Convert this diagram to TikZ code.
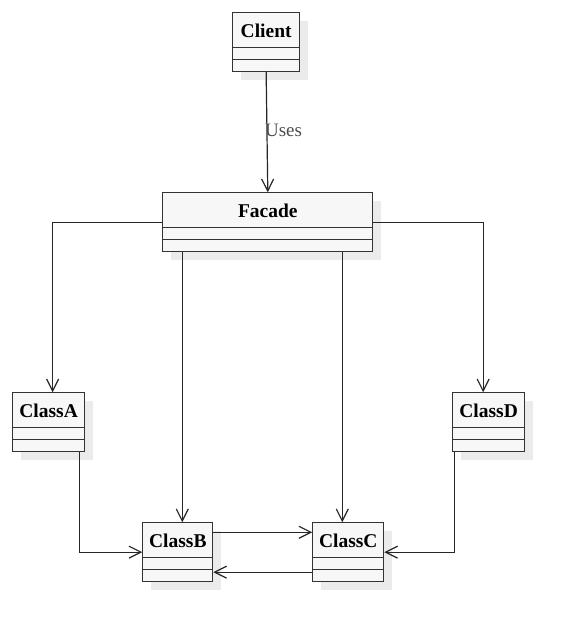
\documentclass[tikz,border=0pt]{standalone}
\usepackage{fontspec}
\setmainfont{Liberation Serif}
\usetikzlibrary{arrows.meta,shadows}

\tikzset{
  umlclass/.style={draw=black!80, fill=black!3, line width=1pt, anchor=north west,
    inner sep=0pt, text height=25pt, text depth=33.7pt,
    font=\fontsize{19.5}{20}\selectfont\bfseries,
    drop shadow={shadow xshift=8.5pt, shadow yshift=-8.5pt, fill=black!8, opacity=1}},
  part/.style={draw=black!80, line width=1pt},
  assoc/.style={draw=black!85, line width=1.2pt, -{Straight Barb[length=12pt,width=12pt]}},
  uses/.style={font=\fontsize{19}{20}\selectfont, text=black!70, inner sep=0pt}
}

\begin{document}
\begin{tikzpicture}[x=1pt, y=-1pt]
        \useasboundingbox (0,0) rectangle (573,631);

        % classes
        \node[umlclass, minimum width=66.7pt] (client) at (232.3,12.3) {Client};
        \node[umlclass, minimum width=210pt] (facade) at (162.3,192.3) {Facade};
        \node[umlclass, minimum width=71.7pt] (classA) at (12.3,392.3) {ClassA};
        \node[umlclass, minimum width=70pt] (classB) at (142.3,522.3) {ClassB};
        \node[umlclass, minimum width=71pt] (classC) at (312.3,522.3) {ClassC};
        \node[umlclass, minimum width=71.7pt] (classD) at (452.3,392.3) {ClassD};

        % compartments
        \draw[part] ([yshift=-35.4pt]client.north west) -- ([yshift=-35.4pt]client.north east);
        \draw[part] ([yshift=-47.5pt]client.north west) -- ([yshift=-47.5pt]client.north east);
        \draw[part] ([yshift=-35.4pt]facade.north west) -- ([yshift=-35.4pt]facade.north east);
        \draw[part] ([yshift=-47.5pt]facade.north west) -- ([yshift=-47.5pt]facade.north east);
        \draw[part] ([yshift=-35.4pt]classA.north west) -- ([yshift=-35.4pt]classA.north east);
        \draw[part] ([yshift=-47.5pt]classA.north west) -- ([yshift=-47.5pt]classA.north east);
        \draw[part] ([yshift=-35.4pt]classB.north west) -- ([yshift=-35.4pt]classB.north east);
        \draw[part] ([yshift=-47.5pt]classB.north west) -- ([yshift=-47.5pt]classB.north east);
        \draw[part] ([yshift=-35.4pt]classC.north west) -- ([yshift=-35.4pt]classC.north east);
        \draw[part] ([yshift=-47.5pt]classC.north west) -- ([yshift=-47.5pt]classC.north east);
        \draw[part] ([yshift=-35.4pt]classD.north west) -- ([yshift=-35.4pt]classD.north east);
        \draw[part] ([yshift=-47.5pt]classD.north west) -- ([yshift=-47.5pt]classD.north east);

        % entry points
        \coordinate (aIn) at ([xshift=4pt]classA.north);
        \coordinate (bIn) at ([xshift=4.5pt]classB.north);
        \coordinate (cIn) at ([xshift=-6pt]classC.north);
        \coordinate (dIn) at ([xshift=-5.5pt]classD.north);
        \coordinate (aOut) at ([xshift=31pt]classA.south);
        \coordinate (dOut) at ([xshift=-34pt]classD.south);

        % associations
        \draw[assoc] (client.south) -- node[uses, anchor=west, xshift=-2.5pt, yshift=2pt] {Uses} (facade.north);
        \draw[assoc] (facade.west) -| (aIn);
        \draw[assoc] (facade.east) -| (dIn);
        \draw[assoc] (facade.south -| bIn) -- (bIn);
        \draw[assoc] (facade.south -| cIn) -- (cIn);
        \draw[assoc] (aOut) |- (classB.west);
        \draw[assoc] (dOut) |- (classC.east);
        \draw[assoc] ([yshift=-10pt]classB.north east) -- ([yshift=-10pt]classC.north west);
        \draw[assoc] ([yshift=-49.9pt]classC.north west) -- ([yshift=-49.9pt]classB.north east);
\end{tikzpicture}
\end{document}
